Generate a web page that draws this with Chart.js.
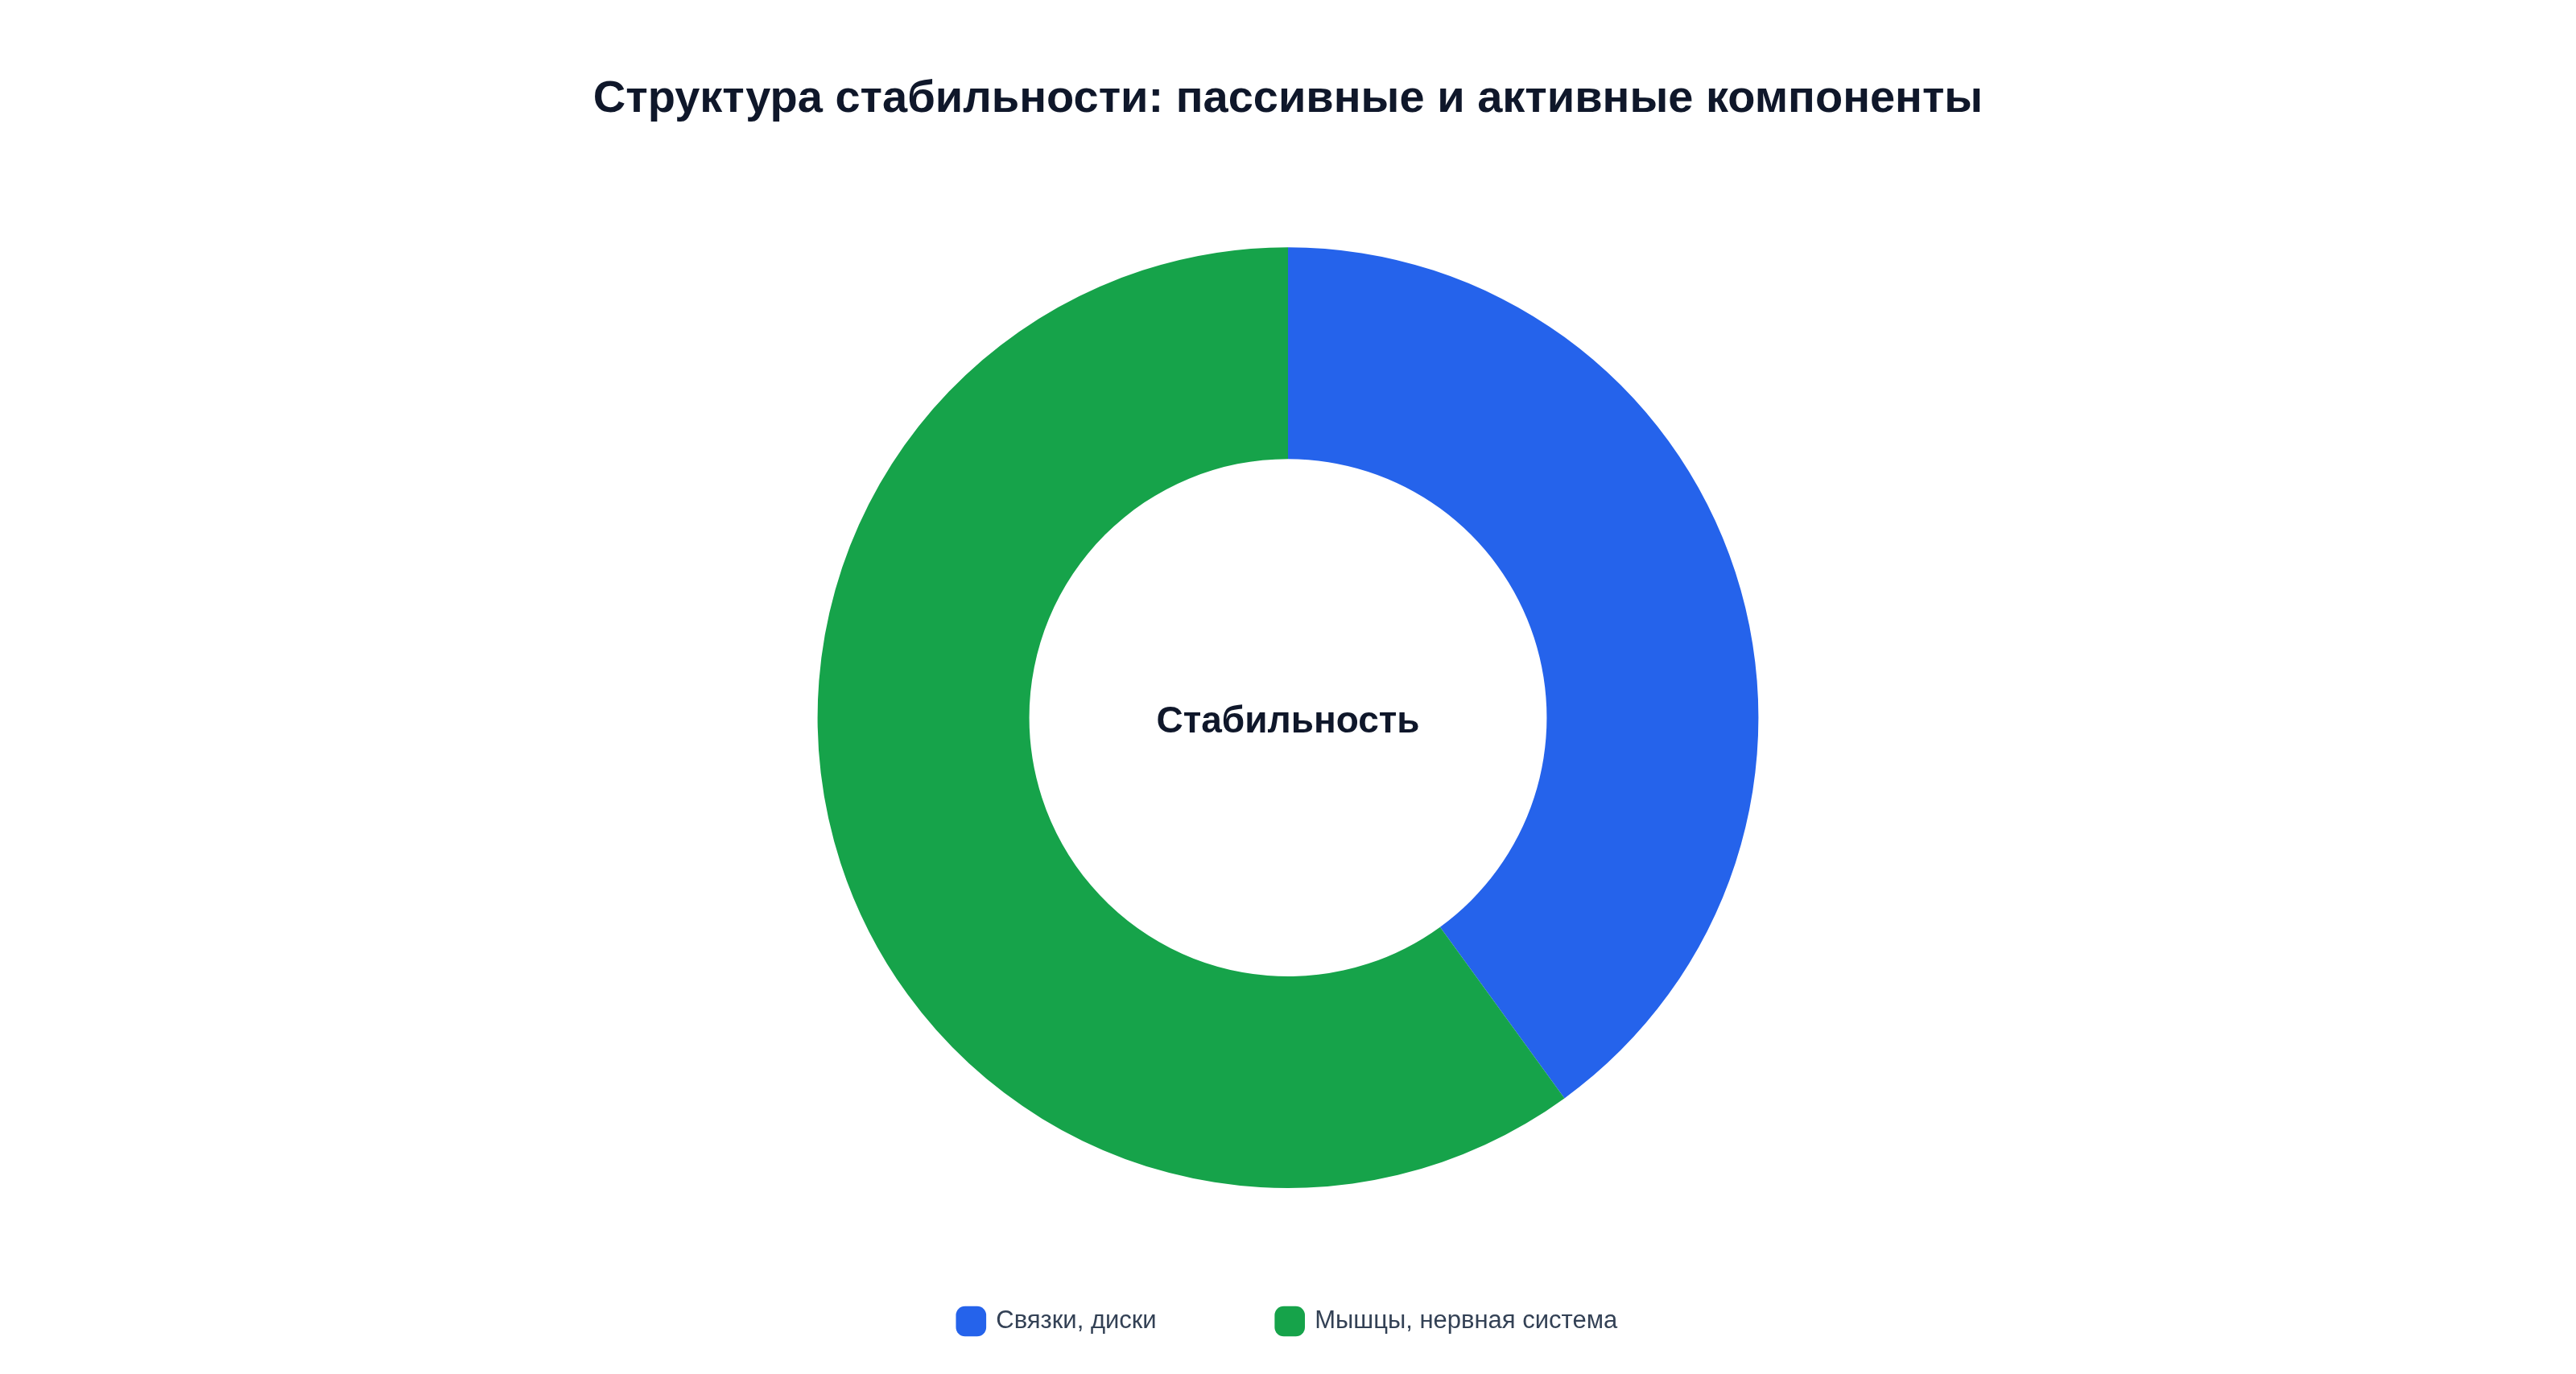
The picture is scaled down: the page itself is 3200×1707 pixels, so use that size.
<!DOCTYPE html>
<html><head><meta charset="utf-8">
<script src="https://cdn.jsdelivr.net/npm/chart.js@4"></script>
<style>html,body{margin:0;padding:0;background:#fff}#w{width:3200px;height:1707px}</style>
</head><body><div id="w"><canvas id="c"></canvas></div>
<script>
const labels = ["Связки, диски", "Мышцы, нервная система"];
const values = [40, 60];
const colors = ["#2563eb", "#16a34a"];
const centerText = "Стабильность";
const centerPlugin = {
  id: 'center',
  afterDraw(chart) {
    const m = chart.getDatasetMeta(0).data[0];
    if (!m) return;
    const ctx = chart.ctx;
    ctx.save();
    ctx.font = "bold 46px 'Liberation Sans', Arial, sans-serif";
    ctx.fillStyle = "#0f172a";
    ctx.textAlign = "center"; ctx.textBaseline = "middle";
    ctx.fillText(centerText, m.x, m.y + 6);
    ctx.restore();
  }
};
new Chart(document.getElementById('c'), {
  type: 'doughnut',
  data: { labels, datasets: [{ data: values, backgroundColor: colors, borderWidth: 0 }] },
  options: {
    responsive: true, maintainAspectRatio: false, devicePixelRatio: 1, animation: false,
    cutout: '55%',
    layout: { padding: { top: 20, bottom: 40 } },
    plugins: {
      title: { display: true, text: "Структура стабильности: пассивные и активные компоненты",
        color: "#0f172a", font: { size: 56, weight: 'bold', family: "'Liberation Sans', Arial, sans-serif" },
        padding: { top: 70, bottom: 150 } },
      legend: { position: 'bottom',
        labels: { usePointStyle: true, pointStyle: 'rectRounded', boxWidth: 36, boxHeight: 36, padding: 150,
          color: "#334155", font: { size: 31, family: "'Liberation Sans', Arial, sans-serif" } } },
      tooltip: { enabled: false }
    }
  },
  plugins: [centerPlugin]
});
</script></body></html>
